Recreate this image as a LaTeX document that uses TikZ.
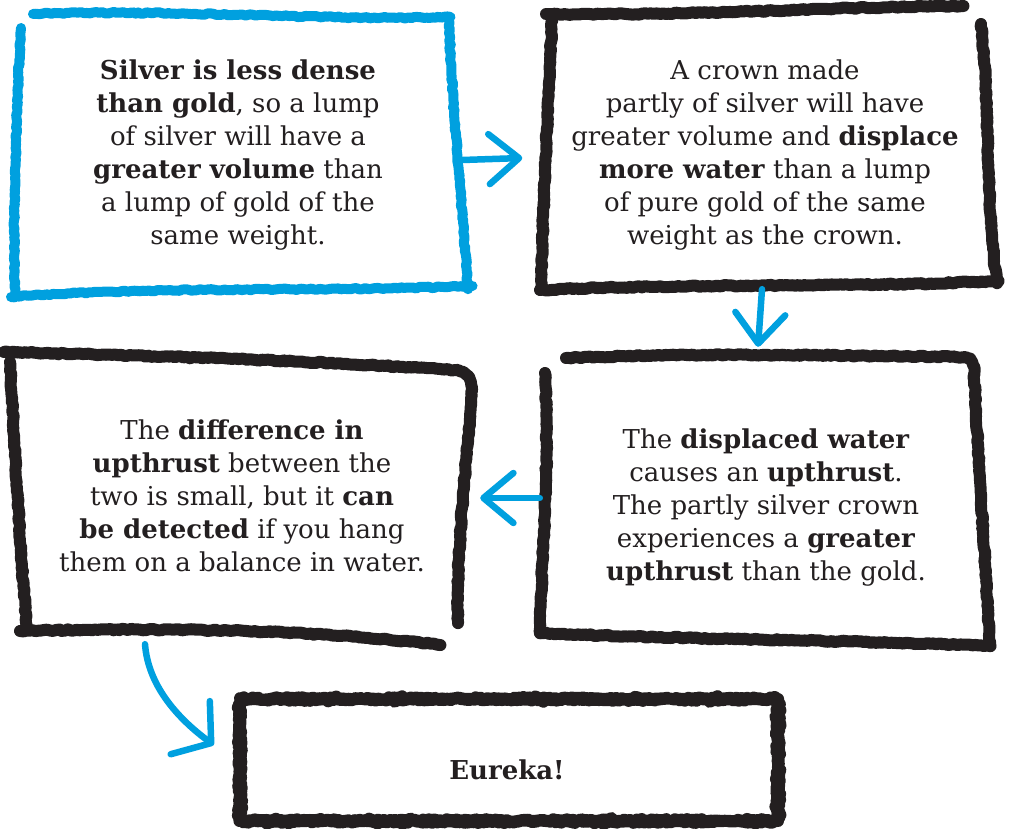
\documentclass[tikz,border=0pt]{standalone}
\usepackage{fontspec}
\setmainfont{DejaVu Serif}
\usetikzlibrary{arrows.meta,calc,decorations.pathmorphing}
\definecolor{skyb}{RGB}{0,160,223}
\definecolor{ink}{RGB}{35,31,32}
\begin{document}
\begin{tikzpicture}[x=1pt,y=-1pt,
  rough/.style={decorate,decoration={random steps,segment length=3pt,amplitude=0.8pt}},
  bluebox/.style={draw=skyb,line width=10pt,line cap=round,line join=round,rough},
  blackbox/.style={draw=ink,line width=12pt,line cap=round,line join=round,rough},
  boxnode/.style={align=center,text=ink,font=\fontsize{26}{33}\selectfont,inner sep=0pt},
  arr/.style={draw=skyb,line width=6.5pt,line cap=round,line join=round,
    -{Straight Barb[length=30pt,width=50pt,round]}},
  arrcurve/.style={draw=skyb,line width=6.5pt,line cap=round,line join=round,
    -{Straight Barb[length=26pt,width=66pt,round]}}]
\pgfmathsetseed{7}
\useasboundingbox (0,0) rectangle (1024,828);
\fill[white] (0,0) rectangle (1024,828);

% nodes (text)
\node[boxnode,minimum width=452pt,minimum height=278pt] (b1) at (238,155)
  {\textbf{Silver is less dense}\\ \textbf{than gold}, so a lump\\ of silver will have a\\ \textbf{greater volume} than\\ a lump of gold of the\\ same weight.};
\node[boxnode,minimum width=445pt,minimum height=277pt] (b2) at (765,155)
  {A crown made\\ partly of silver will have\\ greater volume and \textbf{displace}\\ \textbf{more water} than a lump\\ of pure gold of the same\\ weight as the crown.};
\node[boxnode,minimum width=456pt,minimum height=288pt] (b3) at (242,496)
  {The \textbf{difference in}\\ \textbf{upthrust} between the\\ two is small, but it \textbf{can}\\ \textbf{be detected} if you hang\\ them on a balance in water.};
\node[boxnode,minimum width=442pt,minimum height=286pt] (b4) at (766,507)
  {The \textbf{displaced water}\\ causes an \textbf{upthrust}.\\ The partly silver crown\\ experiences a \textbf{greater}\\ \textbf{upthrust} than the gold.};
\node[boxnode,minimum width=540pt,minimum height=124pt] (b5) at (507,770)
  {\textbf{Eureka!}};

% box 1 (blue)
\draw[bluebox] (33,14) .. controls (180,9) and (330,21) .. (450,17);
\draw[bluebox] (449,20) .. controls (452,110) and (462,200) .. (468,289);
\draw[bluebox] (11,297) .. controls (150,286) and (320,292) .. (472,286);
\draw[bluebox] (21,28) .. controls (16,120) and (13,210) .. (15,296);

% box 2
\draw[blackbox] (552,17) .. controls (548,110) and (543,200) .. (541,289);
\draw[blackbox] (546,14) .. controls (700,16) and (850,6) .. (963,6);
\draw[blackbox] (981,24) .. controls (990,100) and (985,200) .. (997,283);
\draw[blackbox] (540,290) .. controls (700,283) and (850,288) .. (998,281);

% box 3
\draw[blackbox] (4,352) .. controls (150,356) and (300,360) .. (455,370) .. controls (468,372) and (472,378) .. (472,390);
\draw[blackbox] (472,390) .. controls (466,470) and (456,550) .. (458,623);
\draw[blackbox] (20,631) .. controls (150,628) and (300,628) .. (440,645);
\draw[blackbox] (10,362) .. controls (15,450) and (20,550) .. (27,630);

% box 4
\draw[blackbox] (566,358) .. controls (700,352) and (850,356) .. (965,357) .. controls (972,358) and (975,365) .. (974,375);
\draw[blackbox] (974,375) .. controls (978,450) and (985,560) .. (990,646);
\draw[blackbox] (540,633) .. controls (700,640) and (850,640) .. (990,646);
\draw[blackbox] (545,373) .. controls (550,450) and (542,550) .. (540,633);

% box 5
\draw[blackbox,rounded corners=6pt] (240,699) rectangle (778,821);

% connectors
\draw[arr] ($(b1.east)+(-2,5)$) -- ($(b2.west)+(-20,3)$);
\draw[arr] ($(b2.south)+(-3,-4.5)$) -- ($(b4.north)+(-8,-17)$);
\draw[arr] ($(b4.west)+(-5,-9)$) -- ($(b3.east)+(10,2)$);
\draw[arrcurve] ($(b3.south)+(-97,4)$) .. controls +(3,40) and +(-38,-28) .. ($(b5.west)+(-23,-25)$);
\end{tikzpicture}
\end{document}
